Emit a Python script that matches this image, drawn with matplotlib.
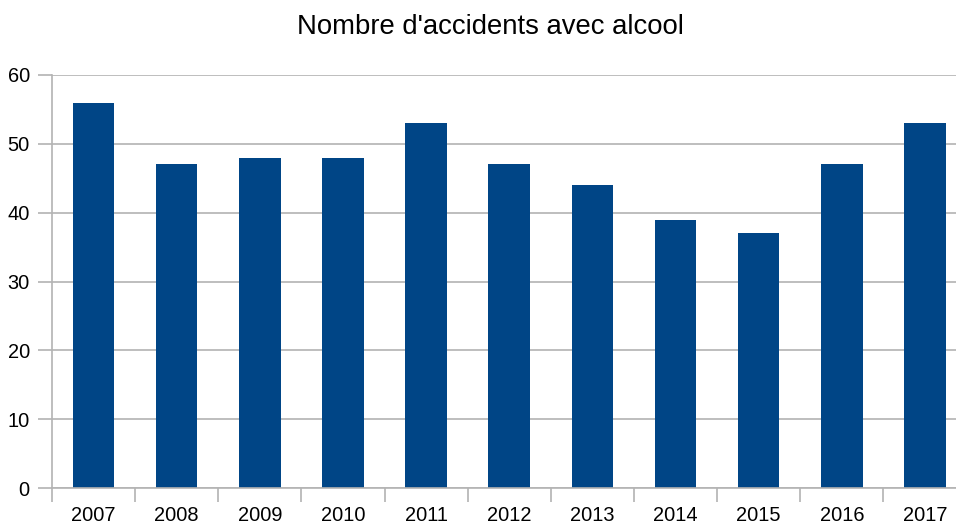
import matplotlib
matplotlib.use("Agg")
import matplotlib.pyplot as plt
import numpy as np

years = ["2007", "2008", "2009", "2010", "2011", "2012", "2013", "2014", "2015", "2016", "2017"]
values = [56, 47, 48, 48, 53, 47, 44, 39, 37, 47, 53]
yticks = [0, 10, 20, 30, 40, 50, 60]
title = "Nombre d'accidents avec alcool"

plt.rcParams['font.family'] = ['Liberation Sans', 'DejaVu Sans']

fig = plt.figure(figsize=(9.56, 5.24), dpi=100)
ax = fig.add_axes([52/956, 1-488/524, 914.5/956, (488-75)/524])

x = np.arange(len(years))
ax.bar(x, values, width=0.5, color="#004586", zorder=3)

ax.set_xlim(-0.5, len(years)-0.5)
ax.set_ylim(0, 60)
ax.set_yticks(yticks)
ax.set_yticklabels([str(t) for t in yticks], fontsize=14.4, color="#000000")
ax.yaxis.grid(True, color="#b3b3b3", linewidth=1.2, zorder=0)

ax.set_xticks(np.arange(len(years)+1)-0.5)
ax.set_xticklabels([])
ax.set_xticks(x, minor=True)
ax.set_xticklabels(years, minor=True, fontsize=14.4)
ax.tick_params(axis='x', which='minor', length=0, pad=13)
ax.tick_params(axis='x', which='major', length=10, color="#b3b3b3", width=1.2)
ax.tick_params(axis='y', length=10, color="#b3b3b3", width=1.2, pad=6)

for s in ['top', 'right']:
    ax.spines[s].set_visible(False)
for s in ['left', 'bottom']:
    ax.spines[s].set_color("#b3b3b3")
    ax.spines[s].set_linewidth(1.2)
    ax.spines[s].set_zorder(4)

fig.text(490/956, 1-27/524, title, ha='center', va='center', fontsize=19.8)

fig.savefig("out.png", dpi=100)
